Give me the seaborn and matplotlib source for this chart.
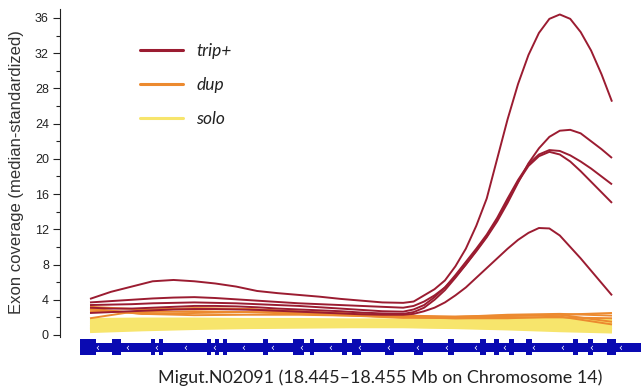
import matplotlib
matplotlib.use("Agg")
import numpy as np
import pandas as pd
import matplotlib.pyplot as plt
from matplotlib.lines import Line2D
from matplotlib.patches import Rectangle
from matplotlib.ticker import FixedLocator
import seaborn as sns

# ---- positions along the gene (percent of the plotted span) ----
x_trip = [0, 4, 8, 12, 16, 20, 24, 28, 32, 36, 40, 44, 48, 52, 56, 60,
          62, 64, 66, 68, 70, 72, 74, 76, 78, 80, 82, 84, 86, 88, 90,
          92, 94, 96, 98, 100]
x_flat = [0, 10, 20, 30, 40, 50, 60, 70, 80, 90, 100]

# ---- trip+ samples (median-standardized exon coverage) ----
trip_a = [4.1, 4.9, 5.5, 6.1, 6.25, 6.1, 5.85, 5.5, 5.0, 4.75, 4.55, 4.35, 4.1, 3.9, 3.7, 3.65,
          3.8, 4.5, 5.2, 6.2, 7.8, 9.8, 12.4, 15.5, 20.0, 24.5, 28.5, 31.8, 34.3, 35.9, 36.4,
          35.9, 34.4, 32.3, 29.6, 26.5]
trip_b = [3.7, 3.85, 4.0, 4.15, 4.25, 4.3, 4.2, 4.05, 3.9, 3.75, 3.6, 3.5, 3.4, 3.3, 3.2, 3.1,
          3.3, 3.8, 4.5, 5.4, 6.6, 8.0, 9.5, 11.1, 12.9, 15.0, 17.3, 19.5, 21.2, 22.5, 23.2,
          23.3, 22.9, 22.0, 21.1, 20.1]
trip_c = [3.4, 3.45, 3.5, 3.6, 3.65, 3.7, 3.65, 3.6, 3.5, 3.4, 3.3, 3.15, 3.0, 2.85, 2.7, 2.65,
          2.9, 3.4, 4.3, 5.4, 6.8, 8.3, 9.8, 11.4, 13.3, 15.5, 17.6, 19.4, 20.5, 21.0, 20.9,
          20.4, 19.7, 18.9, 18.0, 17.1]
trip_d = [3.1, 3.0, 3.0, 3.1, 3.2, 3.3, 3.3, 3.25, 3.15, 3.0, 2.9, 2.8, 2.7, 2.55, 2.45, 2.4,
          2.6, 3.1, 4.0, 5.1, 6.5, 8.0, 9.6, 11.2, 13.1, 15.3, 17.4, 19.2, 20.3, 20.8, 20.5,
          19.7, 18.6, 17.4, 16.2, 15.0]
trip_e = [2.5, 2.6, 2.7, 2.8, 2.9, 2.95, 2.95, 2.9, 2.85, 2.75, 2.65, 2.55, 2.45, 2.35, 2.3, 2.3,
          2.4, 2.7, 3.1, 3.7, 4.5, 5.4, 6.5, 7.6, 8.7, 9.8, 10.8, 11.6, 12.15, 12.1, 11.3,
          10.0, 8.7, 7.3, 5.9, 4.5]

# ---- dup samples ----
dup_a = [3.2, 2.9, 3.0, 2.95, 2.7, 2.45, 2.2, 2.1, 2.2, 2.3, 2.5]
dup_b = [2.9, 2.4, 2.5, 2.6, 2.6, 2.4, 2.15, 2.0, 2.15, 2.3, 1.5]
dup_c = [1.9, 2.8, 3.05, 2.95, 2.55, 2.25, 2.0, 1.9, 1.9, 2.1, 1.2]
dup_d = [3.0, 2.4, 2.25, 2.3, 2.3, 2.2, 2.05, 1.9, 2.0, 2.0, 1.9]
dup_e = [2.7, 2.6, 2.7, 2.6, 2.4, 2.2, 1.95, 2.05, 2.3, 2.4, 2.2]

# ---- solo samples ----
solo_a = [1.65, 1.7, 1.7, 1.65, 1.65, 1.6, 1.6, 1.65, 1.7, 1.65, 1.6]
solo_b = [1.45, 1.5, 1.55, 1.5, 1.5, 1.5, 1.45, 1.5, 1.5, 1.45, 1.4]
solo_c = [1.25, 1.35, 1.4, 1.4, 1.35, 1.35, 1.35, 1.35, 1.3, 1.25, 1.15]
solo_d = [1.05, 1.15, 1.25, 1.25, 1.25, 1.25, 1.25, 1.2, 1.15, 1.05, 0.95]
solo_e = [0.85, 1.0, 1.1, 1.15, 1.15, 1.15, 1.15, 1.1, 1.0, 0.9, 0.75]
solo_f = [0.65, 0.85, 1.0, 1.05, 1.1, 1.1, 1.1, 1.0, 0.9, 0.75, 0.55]
solo_g = [0.5, 0.7, 0.85, 0.95, 1.0, 1.05, 1.05, 0.95, 0.8, 0.6, 0.45]

# ---- gene model: Migut.N02091 (minus strand) ----
gene_span = (-1.9, 108.0)
exon_starts = [-1.9, 4.2, 11.7, 13.2, 22.4, 23.9, 25.5, 33.1, 38.9, 42.1, 48.3,
               50.2, 56.5, 62.1, 68.6, 74.7, 77.4, 80.3, 83.5, 92.5, 95.4, 99.0]
exon_ends = [1.1, 5.9, 12.5, 14.0, 23.2, 24.7, 26.2, 34.1, 41.0, 42.9, 49.2,
             51.9, 58.2, 63.8, 69.7, 75.9, 78.4, 81.2, 84.7, 93.5, 96.4, 100.8]
strand_marks = [1.3, 7.1, 12.6, 18.2, 23.8, 29.3, 34.9, 40.4, 46.0, 51.5, 57.1,
                62.6, 68.2, 73.8, 79.3, 84.9, 90.4, 96.0, 101.5]

classes = ["trip+", "dup", "solo"]
colors = {"trip+": "#9B1C31", "dup": "#EC8A2F", "solo": "#F7E56C"}
widths = {"trip+": 1.4, "dup": 1.4, "solo": 3.6}


def long_form(xs, series, label):
    rows = []
    for name, vals in series.items():
        for xv, yv in zip(xs, vals):
            rows.append({"pos": xv, "coverage": yv, "sample": name, "copies": label})
    return pd.DataFrame(rows)


df = pd.concat([
    long_form(x_flat, {"s1": solo_a, "s2": solo_b, "s3": solo_c, "s4": solo_d,
                       "s5": solo_e, "s6": solo_f, "s7": solo_g}, "solo"),
    long_form(x_flat, {"d1": dup_a, "d2": dup_b, "d3": dup_c, "d4": dup_d,
                       "d5": dup_e}, "dup"),
    long_form(x_trip, {"t1": trip_a, "t2": trip_b, "t3": trip_c, "t4": trip_d,
                       "t5": trip_e}, "trip+"),
], ignore_index=True)

sns.set_theme(style="white")
plt.rcParams["font.family"] = ["Liberation Sans", "DejaVu Sans"]

fig = plt.figure(figsize=(6.41, 3.88), dpi=100)
ax = fig.add_axes([60 / 641, 28 / 388, 581 / 641, 352 / 388])

for cls in ["solo", "dup", "trip+"]:
    sns.lineplot(data=df[df["copies"] == cls], x="pos", y="coverage",
                 units="sample", estimator=None, color=colors[cls],
                 linewidth=widths[cls], ax=ax, legend=False, sort=False)
for ln in ax.get_lines():
    ln.set_solid_joinstyle("round")
    ln.set_solid_capstyle("butt")

# gene model below the coverage tracks
blue = "#0A0AB2"
ax.add_patch(Rectangle((gene_span[0], -1.93), gene_span[1] - gene_span[0], 1.03,
                       color=blue, lw=0, clip_on=True))
for s, e in zip(exon_starts, exon_ends):
    ax.add_patch(Rectangle((s, -2.3), e - s, 1.8, color=blue, lw=0, clip_on=True))
for m in strand_marks:
    ax.text(m, -1.45, "\u2039", color="white", fontsize=7, ha="center",
            va="center", family="DejaVu Sans", clip_on=True)

ax.set_xlim(-5.747, 105.556)
ax.set_ylim(-2.839, 37.134)
ax.set_xlabel("")
ax.set_ylabel("")
ax.set_xticks([])
ax.set_yticks(range(0, 37, 4))
ax.yaxis.set_minor_locator(FixedLocator(range(2, 36, 4)))
ax.tick_params(axis="y", which="major", direction="out", length=5, width=0.8,
               labelsize=9, pad=3, left=True, colors="#222222")
ax.tick_params(axis="y", which="minor", direction="out", length=3, width=0.8,
               left=True, color="#222222")
for side in ["top", "right", "bottom"]:
    ax.spines[side].set_visible(False)
ax.spines["left"].set_bounds(-0.25, 37.0)
ax.spines["left"].set_color("#222222")
ax.spines["left"].set_linewidth(0.8)
ax.patch.set_alpha(0)

handles = [Line2D([0], [0], color=colors[c], lw=2.2) for c in classes]
leg = ax.legend(handles, classes, loc="upper left",
                bbox_to_anchor=(140 / 641, 1 - 43 / 388),
                bbox_transform=fig.transFigure, frameon=False,
                borderpad=0, borderaxespad=0, handlelength=2.5,
                handletextpad=0.75, labelspacing=1.05,
                prop={"family": "Lato", "style": "italic", "size": 12.5})
for t in leg.get_texts():
    t.set_color("#222222")

fig.text(17 / 641, 1 - 172 / 388, "Exon coverage (median-standardized)",
         rotation=90, ha="center", va="center", fontsize=12, color="#333333")
fig.text(380 / 641, 1 - 378 / 388,
         "Migut.N02091 (18.445\u201318.455 Mb on Chromosome 14)",
         ha="center", va="center", fontsize=12.9, family="Lato", color="#222222")

fig.savefig("out.png", dpi=100)
